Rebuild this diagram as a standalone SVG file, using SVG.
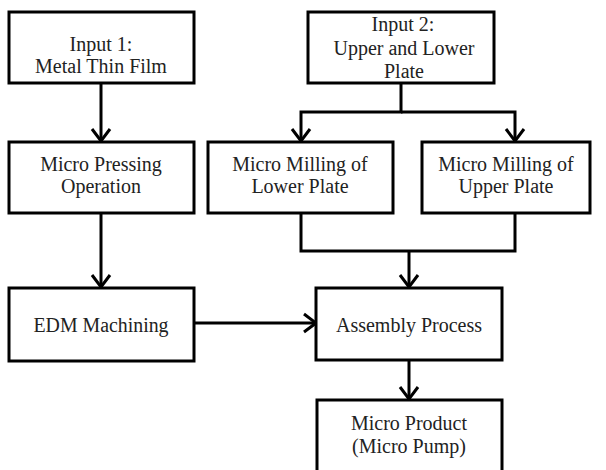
<svg xmlns="http://www.w3.org/2000/svg" width="606" height="470" viewBox="0 0 606 470">
<style>
.box{fill:#fff;stroke:#000;stroke-width:3}
.t{font-family:"Liberation Serif","Times New Roman",serif;font-size:20px;fill:#222;text-anchor:middle}
.c{fill:none;stroke:#000;stroke-width:3}
</style>
<defs>
<marker id="v" viewBox="-15 -11 17 22" refX="0" refY="0" markerWidth="17" markerHeight="22" markerUnits="userSpaceOnUse" orient="auto">
<path d="M-12,-9 L0,0 L-12,9" fill="none" stroke="#000" stroke-width="3"/>
</marker>
</defs>
<rect width="606" height="470" fill="#fff"/>
<g id="connectors">
<path class="c" d="M101,83 V141" marker-end="url(#v)"/>
<path class="c" d="M401,83 V112 H301 V141" marker-end="url(#v)"/>
<path class="c" d="M401,112 H515 V141" marker-end="url(#v)"/>
<path class="c" d="M101,213 V287" marker-end="url(#v)"/>
<path class="c" d="M301,213 V251 H515 V213"/>
<path class="c" d="M409,251 V287" marker-end="url(#v)"/>
<path class="c" d="M194,323 H316" marker-end="url(#v)"/>
<path class="c" d="M409,360 V399" marker-end="url(#v)"/>
</g>
<g id="input1"><rect class="box" x="9" y="12" width="185" height="71"/>
<text class="t" x="101" y="51">Input 1:</text><text class="t" x="101" y="73">Metal Thin Film</text></g>
<g id="input2"><rect class="box" x="308" y="12" width="186" height="71"/>
<text class="t" x="403" y="31">Input 2:</text><text class="t" x="404" y="55">Upper and Lower</text><text class="t" x="404" y="78">Plate</text></g>
<g id="pressing"><rect class="box" x="9" y="142" width="185" height="71"/>
<text class="t" x="101" y="171">Micro Pressing</text><text class="t" x="101" y="193">Operation</text></g>
<g id="millLower"><rect class="box" x="208" y="142" width="185" height="71"/>
<text class="t" x="300" y="171">Micro Milling of</text><text class="t" x="300" y="193">Lower Plate</text></g>
<g id="millUpper"><rect class="box" x="422" y="142" width="168" height="71"/>
<text class="t" x="506" y="171">Micro Milling of</text><text class="t" x="506" y="193">Upper Plate</text></g>
<g id="edm"><rect class="box" x="9" y="288" width="185" height="73"/>
<text class="t" x="101" y="332" textLength="135" lengthAdjust="spacingAndGlyphs">EDM Machining</text></g>
<g id="assembly"><rect class="box" x="316" y="288" width="186" height="72"/>
<text class="t" x="409" y="332">Assembly Process</text></g>
<g id="product"><rect class="box" x="317" y="400" width="185" height="76"/>
<text class="t" x="409" y="430">Micro Product</text><text class="t" x="409" y="453">(Micro Pump)</text></g>
</svg>
